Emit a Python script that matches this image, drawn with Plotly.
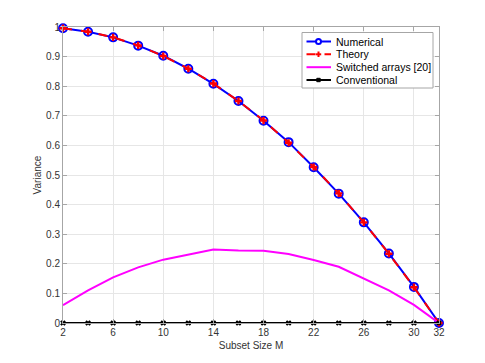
import plotly.graph_objects as go

# Datos
subset_m = [2, 4, 6, 8, 10, 12, 14, 16, 18, 20, 22, 24, 26, 28, 30, 32]
numerical = [0.996, 0.984, 0.965, 0.937, 0.903, 0.859, 0.808, 0.750, 0.683, 0.611,
             0.526, 0.437, 0.340, 0.235, 0.122, 0.0]
theory = [0.996, 0.984, 0.965, 0.938, 0.902, 0.859, 0.809, 0.750, 0.684, 0.609,
          0.527, 0.438, 0.340, 0.234, 0.121, 0.0]
switched = [0.060, 0.110, 0.154, 0.188, 0.214, 0.231, 0.248, 0.245, 0.244, 0.233,
            0.213, 0.190, 0.150, 0.110, 0.061, 0.0]
conventional = [0.0] * 16

legend_names = ["Numerical", "Theory", "Switched arrays [20]", "Conventional"]
x_ticks = [2, 6, 10, 14, 18, 22, 26, 30, 32]
y_ticks = [0, 0.1, 0.2, 0.3, 0.4, 0.5, 0.6, 0.7, 0.8, 0.9, 1]
y_labels = ["0", "0.1", "0.2", "0.3", "0.4", "0.5", "0.6", "0.7", "0.8", "0.9", "1"]

BLUE, RED, MAGENTA, BLACK = "#0000ff", "#ff0000", "#ff00ff", "#000000"

fig = go.Figure()

fig.add_trace(go.Scatter(
    x=subset_m, y=numerical, name=legend_names[0], mode="lines+markers",
    line=dict(color=BLUE, width=2),
    marker=dict(symbol="circle-open", size=8, color=BLUE, line=dict(width=2)),
    cliponaxis=False
))
fig.add_trace(go.Scatter(
    x=subset_m, y=theory, name=legend_names[1], mode="lines+markers",
    line=dict(color=RED, width=2, dash="dash"),
    marker=dict(symbol="cross", size=6, color=RED),
    cliponaxis=False
))
fig.add_trace(go.Scatter(
    x=subset_m, y=switched, name=legend_names[2], mode="lines",
    line=dict(color=MAGENTA, width=2),
    cliponaxis=False
))
fig.add_trace(go.Scatter(
    x=subset_m, y=conventional, name=legend_names[3], mode="lines+markers",
    line=dict(color=BLACK, width=2),
    marker=dict(symbol="x", size=5, color=BLACK),
    cliponaxis=False
))

axis_common = dict(
    showgrid=True, gridcolor="#e6e6e6", gridwidth=1,
    zeroline=False, showline=True, linecolor="#a6a6a6", linewidth=1, mirror="ticks",
    ticks="inside", ticklen=4, tickcolor="#a6a6a6",
    tickfont=dict(size=10, color="#333333"),
)

# marco del gráfico en píxeles (la página tiene 8px de margen en body)
L, T, W, H = 55, 19, 376, 296

def px(x, y):
    return (x - 63) / W, (323 - y) / H

# leyenda dibujada a mano (más compacta que la de plotly)
x0, y0 = px(302, 32.5)
x1, y1 = px(433, 88)
fig.add_shape(type="rect", xref="paper", yref="paper", x0=x0, y0=y0, x1=x1, y1=y1,
              line=dict(color="#a6a6a6", width=1), fillcolor="white", layer="above")

rows = [41.5, 54.3, 67.2, 80]
colors = [BLUE, RED, MAGENTA, BLACK]
for name, color, ry in zip(legend_names, colors, rows):
    lx0, ly = px(306.5, ry)
    lx1, _ = px(331, ry)
    dash = "dash" if color == RED else "solid"
    fig.add_shape(type="line", xref="paper", yref="paper", x0=lx0, x1=lx1, y0=ly, y1=ly,
                  line=dict(color=color, width=2, dash=dash), layer="above")
    tx, _ = px(334, ry)
    fig.add_annotation(xref="paper", yref="paper", x=tx, y=ly, text=name,
                       showarrow=False, xanchor="left", yanchor="middle",
                       font=dict(size=10.5, color=BLACK))

# marcadores de la leyenda
cx0, cy0 = px(316, 39)
cx1, cy1 = px(321, 44)
fig.add_shape(type="circle", xref="paper", yref="paper", x0=cx0, y0=cy0, x1=cx1, y1=cy1,
              line=dict(color=BLUE, width=2), fillcolor="white", layer="above")
for (ax, ay, bx, by) in [(318.5, 51.5, 318.5, 57), (315.8, 54.3, 321.2, 54.3)]:
    p0 = px(ax, ay)
    p1 = px(bx, by)
    fig.add_shape(type="line", xref="paper", yref="paper", x0=p0[0], y0=p0[1], x1=p1[0], y1=p1[1],
                  line=dict(color=RED, width=2), layer="above")
sx0, sy0 = px(316.8, 78.3)
sx1, sy1 = px(320.2, 81.7)
fig.add_shape(type="rect", xref="paper", yref="paper", x0=sx0, y0=sy0, x1=sx1, y1=sy1,
              line=dict(color=BLACK, width=1), fillcolor=BLACK, layer="above")

fig.update_layout(
    width=485 - 8, height=363 - 8,
    margin=dict(l=L, r=46, t=T, b=40, autoexpand=False),
    plot_bgcolor="white", paper_bgcolor="white",
    font=dict(family="Liberation Sans, Arial, sans-serif", size=10, color="#333333"),
    showlegend=False,
    xaxis=dict(range=[2, 32], tickvals=x_ticks,
               title=dict(text="Subset Size M", font=dict(size=10), standoff=4),
               **axis_common),
    yaxis=dict(range=[0, 1], tickvals=y_ticks, ticktext=y_labels,
               title=dict(text="Variance", font=dict(size=10), standoff=2),
               **axis_common),
)

fig.write_html("out.html")
